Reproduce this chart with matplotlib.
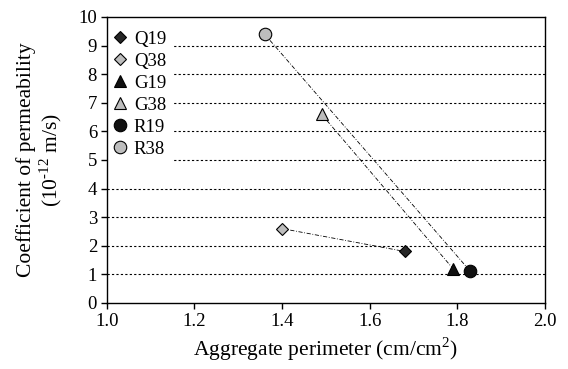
import matplotlib
matplotlib.use("Agg")
import matplotlib.pyplot as plt

# -------------------------------------------------
# Data
# -------------------------------------------------

labels = ["Q19", "Q38", "G19", "G38", "R19", "R38"]
perimeter = [1.68, 1.40, 1.79, 1.49, 1.83, 1.36]
permeability = [1.8, 2.6, 1.2, 6.6, 1.1, 9.4]

markers = ["D", "D", "^", "^", "o", "o"]
faces = ["#262626", "#bdbdbd", "#111111", "#bdbdbd", "#111111", "#bdbdbd"]
sizes = [6.5, 6.5, 8, 8, 9, 9]

# pairs joined by a dash-dot line (38 -> 19)
pairs = [(1, 0), (3, 2), (5, 4)]

plt.rcParams["font.family"] = ["Liberation Serif", "DejaVu Serif"]
plt.rcParams["mathtext.fontset"] = "custom"
plt.rcParams["mathtext.rm"] = "Liberation Serif"

fig = plt.figure(figsize=(5.68, 3.69), dpi=100)
ax = fig.add_axes([0.188, 0.179, 0.7715, 0.775])

for a, b in pairs:
    ax.plot([perimeter[a], perimeter[b]],
            [permeability[a], permeability[b]],
            color="black", lw=0.6, linestyle=(0, (5, 2, 1, 2)), zorder=2)

for i in range(len(labels)):
    ax.plot(perimeter[i], permeability[i], linestyle="none",
            marker=markers[i], markersize=sizes[i],
            markerfacecolor=faces[i], markeredgecolor="black",
            markeredgewidth=0.8, label=labels[i], zorder=3)

ax.set_xlim(1.0, 2.0)
ax.set_ylim(0, 10)
ax.set_xticks([1.0, 1.2, 1.4, 1.6, 1.8, 2.0])
ax.set_xticklabels(["1.0", "1.2", "1.4", "1.6", "1.8", "2.0"])
ax.set_yticks(range(0, 11))

for yv in range(1, 10):
    ax.axhline(yv, color="black", lw=0.8, linestyle=(0, (2, 2)), zorder=1)

ax.tick_params(direction="out", length=4, width=1, labelsize=13.5,
               pad=3)
for s in ax.spines.values():
    s.set_linewidth(1)
    s.set_zorder(5)
# keep ticks drawn over the white legend box
ax.xaxis.set_zorder(5)
ax.yaxis.set_zorder(5)

ax.set_xlabel("Aggregate perimeter (cm/cm$^{2}$)", fontsize=15.5, labelpad=4)
ax.set_ylabel("Coefficient of permeability\n(10$^{\\text{-12}}$ m/s)",
              fontsize=15.5, labelpad=10, linespacing=1.1)

leg = ax.legend(loc="upper left", bbox_to_anchor=(-0.009, 0.979),
                frameon=True, framealpha=1,
                edgecolor="none", fontsize=13.5, handletextpad=0.25,
                borderaxespad=0.1, labelspacing=0.26, handlelength=1.0,
                borderpad=0.3, fancybox=False)
leg.set_zorder(4)

fig.savefig("out.png", dpi=100)
